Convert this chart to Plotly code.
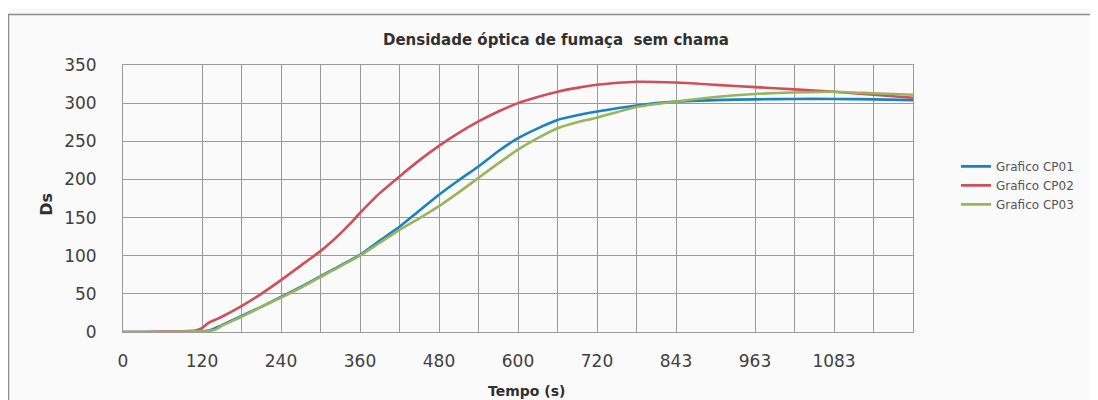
import plotly.graph_objects as go

# ---- data ----
time_s = [0, 30, 60, 90, 110, 120, 130, 140, 150, 180, 210, 240, 270, 300, 315, 330, 345, 360, 390,
          420, 450, 480, 510, 540, 570, 600, 630, 660, 690, 720, 780, 840, 900, 960,
          1020, 1080, 1140, 1200]

cp01 = [0, 0, 0, 0.5, 1, 1, 2, 5, 9, 21, 33, 46, 59, 73, 80, 87, 94, 101, 120,
        138, 159, 180, 199, 217, 237, 254, 267, 278, 284, 289, 297, 302, 304, 305,
        305.5, 305.5, 305, 304]
cp02 = [0, 0, 0.5, 1, 2, 5, 12, 16, 20, 34, 50, 68, 87, 106, 117, 129, 142, 156, 182,
        204, 225, 244, 261, 276, 289, 300, 308, 315, 320, 324, 328, 327, 324, 321,
        318, 315, 311, 307]
cp03 = [0, 0, 0, 0.5, 1, 1, 1.5, 3, 8, 20, 33, 45, 58, 72, 79, 86, 93, 100, 117,
        134, 149, 165, 183, 202, 221, 239, 254, 267, 275, 281, 295, 302, 308, 312,
        314, 315, 313, 311]

series_names = ["Grafico CP01", "Grafico CP02", "Grafico CP03"]
series_colors = ["#1b82c0", "#cf4f5a", "#98b55e"]

grid_positions = [0, 120, 180, 240, 300, 360, 420, 480, 540, 600, 660, 720, 780, 840,
                  960, 1020, 1080, 1140, 1200]
label_positions = [0, 120, 240, 360, 480, 600, 720, 840, 960, 1080]
label_texts = ["0", "120", "240", "360", "480", "600", "720", "843", "963", "1083"]

y_ticks = [0, 50, 100, 150, 200, 250, 300, 350]

# ---- figure ----
fig = go.Figure()
for name, vals, col in zip(series_names, [cp01, cp02, cp03], series_colors):
    fig.add_trace(go.Scatter(x=time_s, y=vals, mode="lines", name=name,
                             line=dict(color=col, width=2.6, shape="spline", smoothing=0.6)))

tick_text = [label_texts[label_positions.index(p)] if p in label_positions else ""
             for p in grid_positions]

OFF = 8  # page body margin in the browser
W, H = 1098, 400
PL, PR, PT, PB = 123, 913, 65, 332.5   # plot area in screen pixels
L = PL - OFF
T = PT - OFF
R = W - (PR - OFF)
B = H - (PB - OFF)
pw, ph = PR - PL, PB - PT


def px_x(p):
    return (p - PL) / pw


def px_y(p):
    return (PB - p) / ph


fig.update_layout(
    width=W, height=H,
    margin=dict(l=L, r=R, t=T, b=B),
    paper_bgcolor="#fafafa", plot_bgcolor="#fafafa",
    font=dict(family="DejaVu Sans", color="#404040"),
    showlegend=True,
    legend=dict(x=px_x(956), y=px_y(152), xanchor="left", yanchor="top",
                font=dict(size=12, color="#555555", family="DejaVu Sans"),
                bgcolor="rgba(0,0,0,0)", itemwidth=30, tracegroupgap=0),
    xaxis=dict(range=[0, 1200], tickmode="array", tickvals=grid_positions, ticktext=tick_text,
               showgrid=True, gridcolor="#9a9a9a", gridwidth=1, zeroline=False,
               showline=True, linecolor="#9a9a9a", linewidth=1, mirror=True,
               tickfont=dict(size=17, color="#404040"), ticks="", ticklabelstandoff=14),
    yaxis=dict(range=[0, 350], tickmode="array", tickvals=y_ticks,
               showgrid=True, gridcolor="#9a9a9a", gridwidth=1, zeroline=False,
               showline=True, linecolor="#9a9a9a", linewidth=1, mirror=True,
               tickfont=dict(size=17, color="#404040"), ticks="", ticklabelstandoff=22),
)

fig.add_annotation(text="<b>Densidade óptica de fumaça  sem chama</b>", xref="paper", yref="paper",
                   x=px_x(556), y=px_y(40), xanchor="center", yanchor="middle", showarrow=False,
                   font=dict(size=15, color="#303030", family="DejaVu Sans"))
fig.add_annotation(text="<b>Tempo (s)</b>", xref="paper", yref="paper",
                   x=px_x(526), y=px_y(392), xanchor="center", yanchor="middle", showarrow=False,
                   font=dict(size=14, color="#303030", family="DejaVu Sans"))
fig.add_annotation(text="<b>Ds</b>", xref="paper", yref="paper", textangle=-90,
                   x=px_x(47), y=px_y(205), xanchor="center", yanchor="middle", showarrow=False,
                   font=dict(size=16, color="#303030", family="DejaVu Sans"))

# outer chart frame (left and top edges visible; continues past the picture)
fig.add_shape(type="rect", xref="paper", yref="paper",
              x0=px_x(8.5), x1=px_x(1300), y0=px_y(600), y1=px_y(14.5),
              line=dict(color="#8c8c8c", width=1.5), fillcolor="rgba(0,0,0,0)", layer="below")

fig.write_html("out.html")
